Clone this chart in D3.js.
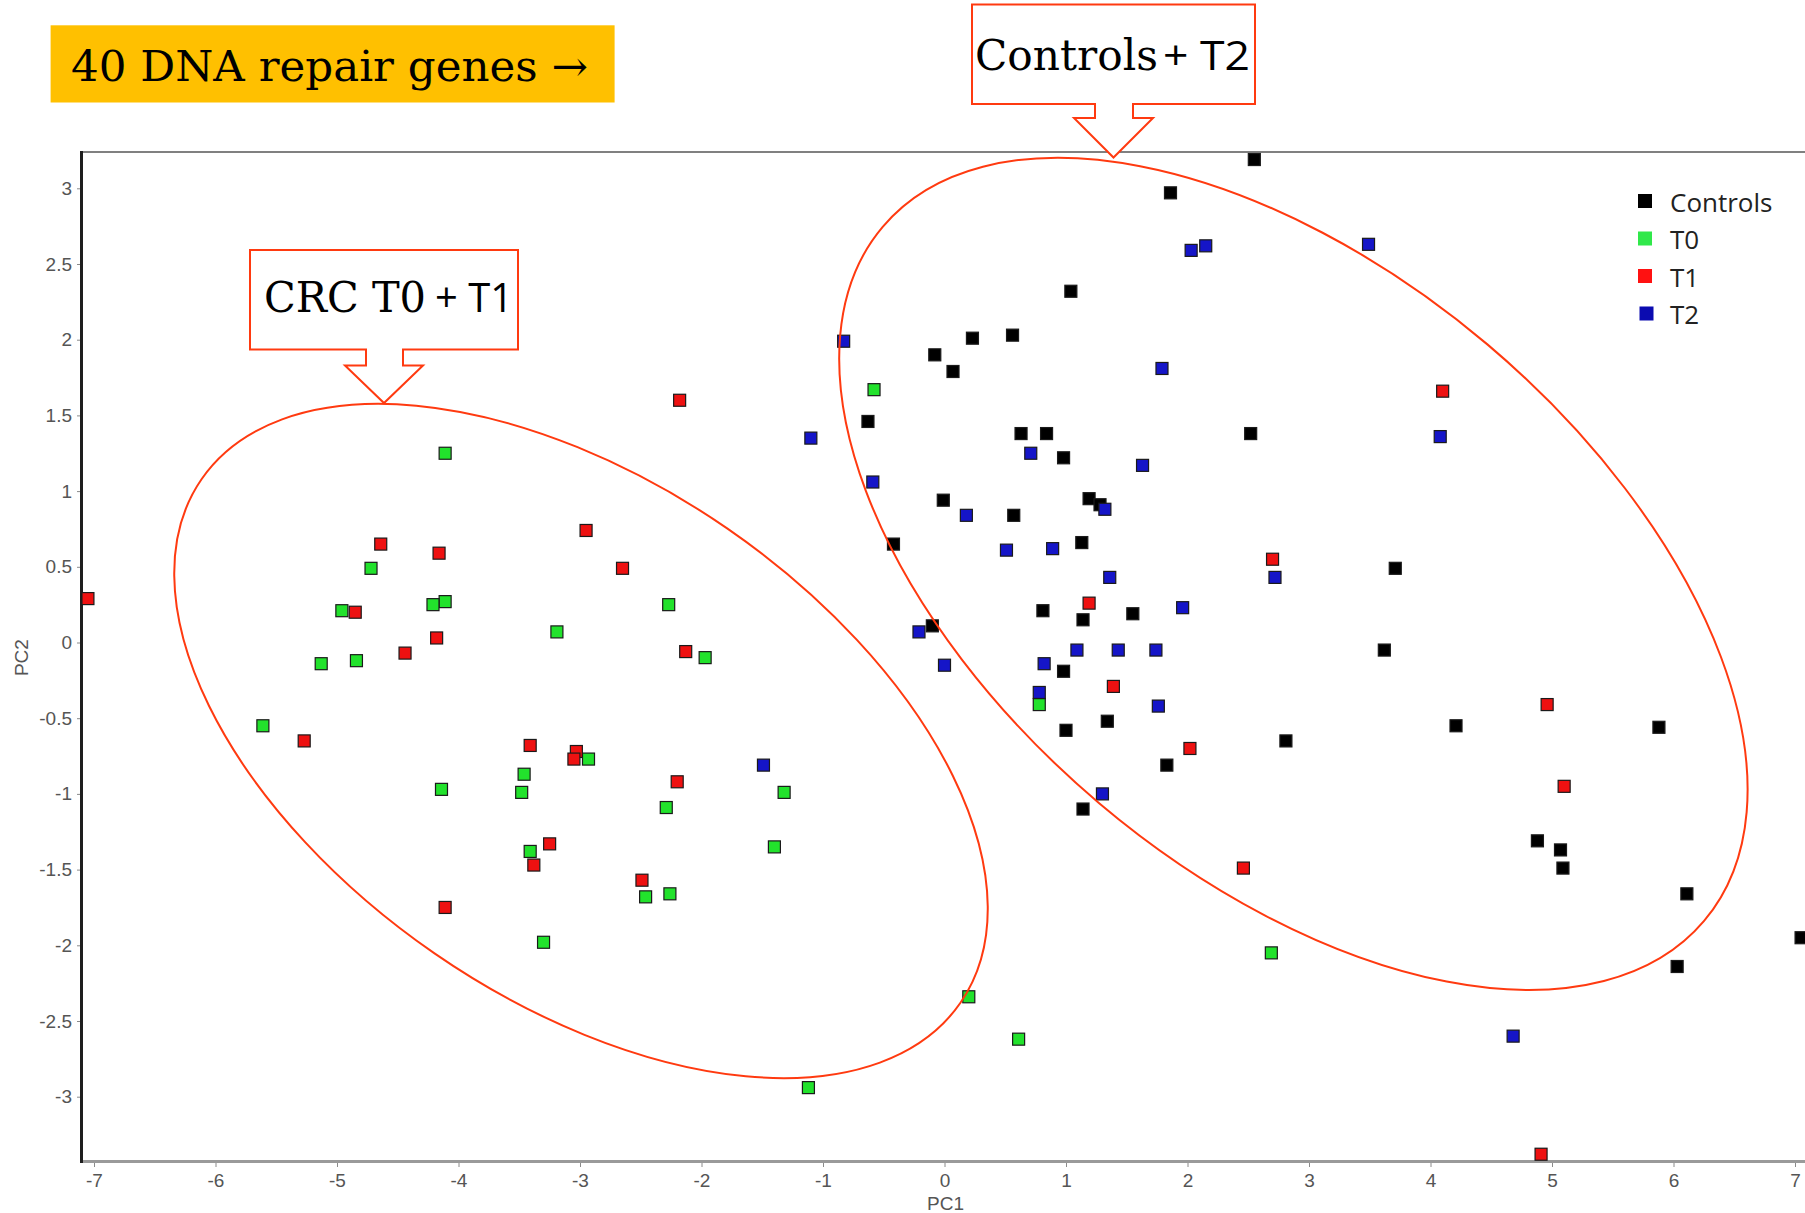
<!DOCTYPE html>
<html>
<head>
<meta charset="utf-8">
<script src="https://cdn.jsdelivr.net/npm/d3@7"></script>
<style>
  body { margin: 0; background: #fff; }
  svg { display: block; }
</style>
</head>
<body>
<div id="chart"></div>
<script>
//Groups, marker colours and legend colours
const groups = ["Controls", "T0", "T1", "T2"];
const groupColors = ["#000000", "#22e22c", "#ee1111", "#1515c8"];
const legendColors = ["#000000", "#30e84a", "#ff1111", "#0b0bb0"];

//PCA scores [PC1, PC2]
const controls = [
  [2.55, 3.19], [1.86, 2.97], [1.04, 2.32], [0.56, 2.03], [0.23, 2.01], [-0.08, 1.90],
  [0.07, 1.79], [-0.63, 1.46], [0.63, 1.38], [0.84, 1.38], [0.98, 1.22], [2.52, 1.38],
  [1.19, 0.95], [1.28, 0.91], [-0.01, 0.94], [0.57, 0.84], [-0.42, 0.65], [1.13, 0.66],
  [3.71, 0.49], [0.81, 0.21], [1.55, 0.19], [1.14, 0.15], [-0.10, 0.11], [3.62, -0.05],
  [0.98, -0.19], [1.34, -0.52], [1.00, -0.58], [1.83, -0.81], [2.81, -0.65], [1.14, -1.10],
  [4.21, -0.55], [5.88, -0.56], [4.88, -1.31], [5.07, -1.37], [5.09, -1.49], [6.11, -1.66],
  [6.03, -2.14], [7.05, -1.95]
];
const t0 = [
  [-0.58, 1.67], [-4.11, 1.25], [-4.72, 0.49], [-4.11, 0.27], [-4.21, 0.25], [-4.96, 0.21],
  [-2.27, 0.25], [-3.19, 0.07], [-5.13, -0.14], [-4.84, -0.12], [-1.97, -0.10], [-5.61, -0.55],
  [-4.14, -0.97], [-3.46, -0.87], [-3.48, -0.99], [-2.93, -0.77], [-1.32, -0.99], [-2.29, -1.09],
  [-3.41, -1.38], [-1.40, -1.35], [-2.46, -1.68], [-2.26, -1.66], [-3.30, -1.98], [0.78, -0.41],
  [2.69, -2.05], [0.20, -2.34], [0.61, -2.62], [-1.12, -2.94]
];
const t1 = [
  [-7.05, 0.29], [-2.18, 1.60], [-4.64, 0.65], [-4.16, 0.59], [-2.95, 0.74], [-2.65, 0.49],
  [-4.85, 0.20], [-4.18, 0.03], [-4.44, -0.07], [-2.13, -0.06], [-5.27, -0.65], [-3.41, -0.68],
  [-3.03, -0.72], [-3.05, -0.77], [-2.20, -0.92], [-3.25, -1.33], [-3.38, -1.47], [-2.49, -1.57],
  [-4.11, -1.75], [1.19, 0.26], [1.39, -0.29], [2.02, -0.70], [2.70, 0.55], [4.10, 1.66],
  [4.96, -0.41], [5.10, -0.95], [2.46, -1.49], [4.91, -3.38]
];
const t2 = [
  [-0.83, 1.99], [-1.10, 1.35], [2.03, 2.59], [2.15, 2.62], [3.49, 2.63], [1.79, 1.81],
  [0.71, 1.25], [-0.59, 1.06], [1.63, 1.17], [0.18, 0.84], [1.32, 0.88], [0.51, 0.61],
  [0.89, 0.62], [1.36, 0.43], [2.72, 0.43], [4.08, 1.36], [1.96, 0.23], [-0.21, 0.07],
  [0.00, -0.15], [0.82, -0.14], [1.09, -0.05], [1.43, -0.05], [1.74, -0.05], [0.78, -0.33],
  [1.76, -0.42], [-1.49, -0.81], [1.30, -1.00], [4.68, -2.60]
];
const groupData = [controls, t0, t1, t2];

//Tick values
const xTicks = [-7, -6, -5, -4, -3, -2, -1, 0, 1, 2, 3, 4, 5, 6, 7];
const yTicks = [3, 2.5, 2, 1.5, 1, 0.5, 0, -0.5, -1, -1.5, -2, -2.5, -3];

//Size of the page and of the plot frame
const width = 1805;
const height = 1213;
const plotLeft = 81;
const plotTop = 152;
const plotBottom = 1162;

const svg = d3.select("#chart").append("svg")
  .attr("width", width)
  .attr("height", height);

//Scales setup
const xscale = d3.scaleLinear().domain([-7, 7]).range([94, 1795]);//PC1
const yscale = d3.scaleLinear().domain([-3, 3]).range([1096.7, 188.3]);//PC2

//Axes
const g_xaxis = svg.append("g")
  .attr("transform", `translate(0,${plotBottom})`)
  .call(d3.axisBottom(xscale).tickValues(xTicks).tickSize(5).tickPadding(7).tickFormat((d) => String(d)));
const g_yaxis = svg.append("g")
  .attr("transform", `translate(${plotLeft},0)`)
  .call(d3.axisLeft(yscale).tickValues(yTicks).tickSize(4).tickPadding(5).tickFormat((d) => String(d)));

[g_xaxis, g_yaxis].forEach((g) => {
  g.select(".domain").remove();
  g.selectAll(".tick line").attr("stroke", "#8a8a8a");
  g.selectAll(".tick text")
    .attr("fill", "#555")
    .style("font-family", "'Liberation Sans', Arial, sans-serif")
    .style("font-size", "19px");
});

//Frame lines
svg.append("line").attr("x1", plotLeft).attr("x2", width).attr("y1", plotTop).attr("y2", plotTop)
  .attr("stroke", "#808080").attr("stroke-width", 2);
svg.append("line").attr("x1", plotLeft).attr("x2", width).attr("y1", plotBottom - 0.5).attr("y2", plotBottom - 0.5)
  .attr("stroke", "#9a9a9a").attr("stroke-width", 3);
svg.append("line").attr("x1", plotLeft + 0.5).attr("x2", plotLeft + 0.5).attr("y1", plotTop - 1).attr("y2", plotBottom + 1)
  .attr("stroke", "#1e1e1e").attr("stroke-width", 3);

//Axis titles
svg.append("text")
  .attr("x", xscale(0) + 1).attr("y", 1210)
  .attr("text-anchor", "middle")
  .attr("fill", "#555")
  .style("font-family", "'Liberation Sans', Arial, sans-serif")
  .style("font-size", "19px")
  .text("PC1");
svg.append("text")
  .attr("transform", `translate(28,${yscale(-0.1)}) rotate(-90)`)
  .attr("text-anchor", "middle")
  .attr("fill", "#555")
  .style("font-family", "'Liberation Sans', Arial, sans-serif")
  .style("font-size", "19px")
  .text("PC2");

//Points, one layer per group
const markerSize = 12;
groupData.forEach((data, i) => {
  svg.append("g").selectAll("rect")
    .data(data)
    .join("rect")
      .attr("x", (d) => xscale(d[0]) - markerSize / 2)
      .attr("y", (d) => yscale(d[1]) - markerSize / 2)
      .attr("width", markerSize)
      .attr("height", markerSize)
      .attr("fill", groupColors[i])
      .attr("stroke", "#1a1a1a")
      .attr("stroke-width", 1.2);
});

//Legend
const legend = svg.append("g").attr("transform", "translate(1638,194)");
groups.forEach((name, i) => {
  legend.append("rect")
    .attr("x", i === 3 ? 1.5 : 0).attr("y", i * 37.5)
    .attr("width", 14).attr("height", 14)
    .attr("fill", legendColors[i]);
  legend.append("text")
    .attr("x", 32).attr("y", i * 37.5 + 17.5)
    .attr("fill", "#222")
    .style("font-family", "'Open Sans', sans-serif")
    .style("font-size", "26px")
    .text(name);
});

//Ellipses around the clusters
const annotColor = "#ff3a10";
const ellipses = [
  { cx: 581, cy: 741, rx: 461, ry: 258, angle: 34.6 },
  { cx: 1293.4, cy: 573.9, rx: 537.7, ry: 300.5, angle: 40.2 }
];
svg.append("g").selectAll("ellipse")
  .data(ellipses)
  .join("ellipse")
    .attr("transform", (d) => `translate(${d.cx},${d.cy}) rotate(${d.angle})`)
    .attr("rx", (d) => d.rx)
    .attr("ry", (d) => d.ry)
    .attr("fill", "none")
    .attr("stroke", annotColor)
    .attr("stroke-width", 2);

//Callout boxes with arrow pointing down
function callout(box) {
  const p = d3.path();
  p.moveTo(box.x0, box.y0);
  p.lineTo(box.x1, box.y0);
  p.lineTo(box.x1, box.y1);
  p.lineTo(box.s1, box.y1);
  p.lineTo(box.s1, box.wy);
  p.lineTo(box.w1, box.wy);
  p.lineTo(box.tx, box.ty);
  p.lineTo(box.w0, box.wy);
  p.lineTo(box.s0, box.wy);
  p.lineTo(box.s0, box.y1);
  p.lineTo(box.x0, box.y1);
  p.closePath();
  svg.append("path")
    .attr("d", p.toString())
    .attr("fill", "#fff")
    .attr("stroke", annotColor)
    .attr("stroke-width", 2);
}
callout({ x0: 972, y0: 4.5, x1: 1255, y1: 104, s0: 1095, s1: 1133, wy: 118, w0: 1074, w1: 1153, tx: 1113.5, ty: 157.5 });
callout({ x0: 250, y0: 250, x1: 518, y1: 349.5, s0: 366, s1: 403, wy: 365.5, w0: 345, w1: 423, tx: 384, ty: 403 });

//Label text: slab part and sans part
const slabFont = "'DejaVu Serif', serif";
const sansFont = "'Open Sans', sans-serif";
function label(x, y, str, font, size, len) {
  svg.append("text")
    .attr("x", x).attr("y", y)
    .attr("textLength", len)
    .attr("lengthAdjust", "spacingAndGlyphs")
    .attr("fill", "#000")
    .style("font-family", font)
    .style("font-size", size + "px")
    .text(str);
}
label(975, 70, "Controls", slabFont, 42, 183);
label(1163, 70, "+ T2", sansFont, 41, 87);
label(264, 311.7, "CRC T0", slabFont, 42, 162);
label(435, 311.7, "+ T1", sansFont, 41, 78);

//Yellow title box
svg.append("rect")
  .attr("x", 50.6).attr("y", 25.3)
  .attr("width", 564).attr("height", 77.2)
  .attr("fill", "#ffc000");
label(71, 81, "40 DNA repair genes \u2192", slabFont, 42, 517);
</script>
</body>
</html>
